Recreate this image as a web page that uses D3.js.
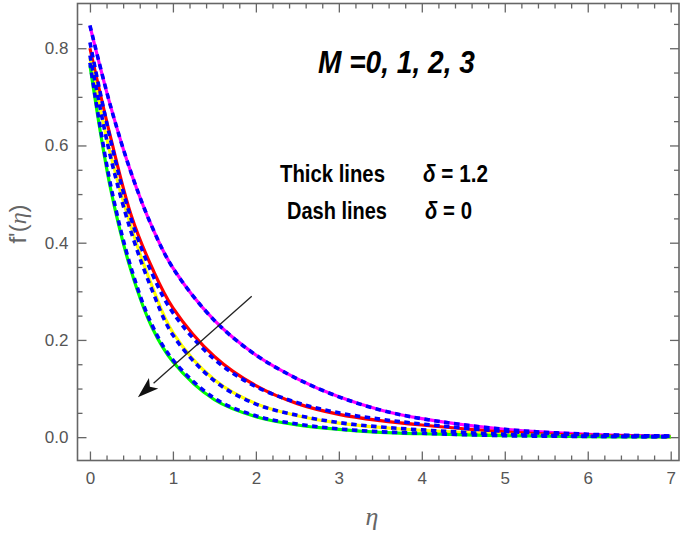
<!DOCTYPE html>
<html>
<head>
<meta charset="utf-8">
<script src="https://cdn.jsdelivr.net/npm/d3@7"></script>
<style>
  html, body { margin: 0; padding: 0; background: #fff; }
  svg { display: block; }
</style>
</head>
<body>
<svg id="chart" width="685" height="534"></svg>
<script>
// ---- data ----
const eta = [0, 0.25, 0.5, 0.75, 1, 1.5, 2, 2.5, 3, 3.5, 4, 5, 6, 7];
// thick lines, delta = 1.2, M = 0,1,2,3
const solidM0 = [0.846, 0.680, 0.542, 0.432, 0.348, 0.240, 0.169, 0.120, 0.083, 0.056, 0.038, 0.016, 0.006, 0.002];
const solidM1 = [0.800, 0.616, 0.455, 0.348, 0.266, 0.166, 0.106, 0.069, 0.047, 0.034, 0.025, 0.011, 0.004, 0.001];
const solidM2 = [0.780, 0.580, 0.430, 0.310, 0.215, 0.118, 0.069, 0.044, 0.029, 0.020, 0.014, 0.006, 0.002, 0.001];
const solidM3 = [0.765, 0.510, 0.340, 0.225, 0.155, 0.077, 0.042, 0.025, 0.016, 0.010, 0.007, 0.003, 0.001, 0.0005];
// dash lines, delta = 0, M = 0,1,2,3
const dashM0 = [0.847, 0.680, 0.542, 0.432, 0.348, 0.240, 0.169, 0.120, 0.083, 0.056, 0.038, 0.016, 0.006, 0.002];
const dashM1 = [0.812, 0.610, 0.447, 0.336, 0.256, 0.160, 0.104, 0.071, 0.050, 0.037, 0.027, 0.012, 0.005, 0.002];
const dashM2 = [0.785, 0.575, 0.420, 0.302, 0.210, 0.116, 0.068, 0.045, 0.030, 0.021, 0.015, 0.006, 0.002, 0.001];
const dashM3 = [0.770, 0.518, 0.346, 0.230, 0.159, 0.080, 0.044, 0.027, 0.017, 0.011, 0.008, 0.003, 0.0015, 0.001];

const solidSeries = [solidM0, solidM1, solidM2, solidM3];
const dashSeries = [dashM0, dashM1, dashM2, dashM3];
const solidColors = ["#ff00ff", "#ff0000", "#ffff00", "#00ff00"];
const dashColor = "#0000ff";

const xTicks = [0, 1, 2, 3, 4, 5, 6, 7];
const yTicks = [0.0, 0.2, 0.4, 0.6, 0.8];
const xDomain = [-0.15, 7.1];
const yDomain = [-0.048, 0.892];
// arrow annotation in data units: [eta, f'] from tail to head
const arrowFrom = [1.95, 0.290];
const arrowTo = [0.578, 0.082];

// ---- layout ----
const svg = d3.select("#chart");
const L = 77.5, R = 679, T = 3.5, B = 460.5;
const x = d3.scaleLinear().domain(xDomain).range([L, R]);
const y = d3.scaleLinear().domain(yDomain).range([B, T]);
const axisColor = "#666";
const labelColor = "#555";

svg.append("defs").append("clipPath").attr("id", "clip")
  .append("rect").attr("x", L).attr("y", T).attr("width", R - L).attr("height", B - T);

const xMinor = d3.range(0, 7.0001, 0.2).filter(v => Math.abs(v - Math.round(v)) > 1e-6);
const yMinor = d3.range(0, 0.8901, 0.05).filter(v => Math.abs(v * 5 - Math.round(v * 5)) > 1e-6);
const fmt = d3.format(".1f");

const gB = svg.append("g").attr("transform", `translate(0,${B})`)
  .call(d3.axisBottom(x).tickValues(xTicks).tickFormat(d3.format("d")).tickSizeInner(-9).tickSizeOuter(0).tickPadding(11));
const gBm = svg.append("g").attr("transform", `translate(0,${B})`)
  .call(d3.axisBottom(x).tickValues(xMinor).tickFormat("").tickSizeInner(-5).tickSizeOuter(0));
const gT = svg.append("g").attr("transform", `translate(0,${T})`)
  .call(d3.axisTop(x).tickValues(xTicks).tickFormat("").tickSizeInner(-9).tickSizeOuter(0));
const gTm = svg.append("g").attr("transform", `translate(0,${T})`)
  .call(d3.axisTop(x).tickValues(xMinor).tickFormat("").tickSizeInner(-5).tickSizeOuter(0));
const gL = svg.append("g").attr("transform", `translate(${L},0)`)
  .call(d3.axisLeft(y).tickValues(yTicks).tickFormat(fmt).tickSizeInner(-9).tickSizeOuter(0).tickPadding(9));
const gLm = svg.append("g").attr("transform", `translate(${L},0)`)
  .call(d3.axisLeft(y).tickValues(yMinor).tickFormat("").tickSizeInner(-5).tickSizeOuter(0));
const gR = svg.append("g").attr("transform", `translate(${R},0)`)
  .call(d3.axisRight(y).tickValues(yTicks).tickFormat("").tickSizeInner(-9).tickSizeOuter(0));
const gRm = svg.append("g").attr("transform", `translate(${R},0)`)
  .call(d3.axisRight(y).tickValues(yMinor).tickFormat("").tickSizeInner(-5).tickSizeOuter(0));

[gB, gBm, gT, gTm, gL, gLm, gR, gRm].forEach(g => {
  g.select(".domain").remove();
  g.selectAll(".tick line").attr("stroke", axisColor).attr("stroke-width", 1.3);
  g.selectAll(".tick text").attr("fill", labelColor)
    .style("font-family", "'Liberation Sans', Arial, sans-serif").style("font-size", "17px");
});

svg.append("rect").attr("x", L).attr("y", T).attr("width", R - L).attr("height", B - T)
  .attr("fill", "none").attr("stroke", axisColor).attr("stroke-width", 1.6);

// curves
const line = d3.line().x((d, i) => x(eta[i])).y(d => y(d)).curve(d3.curveCatmullRom.alpha(0.5));
const plot = svg.append("g").attr("clip-path", "url(#clip)");
solidSeries.forEach((s, k) => {
  plot.append("path").attr("d", line(s)).attr("fill", "none")
    .attr("stroke", solidColors[k]).attr("stroke-width", 3.2);
});
dashSeries.forEach(s => {
  plot.append("path").attr("d", line(s)).attr("fill", "none")
    .attr("stroke", dashColor).attr("stroke-width", 3.6).attr("stroke-dasharray", "5.5,4.5");
});

// arrow
const x1 = x(arrowFrom[0]), y1 = y(arrowFrom[1]);
const x2 = x(arrowTo[0]), y2 = y(arrowTo[1]);
const ang = Math.atan2(y2 - y1, x2 - x1);
const hl = 21, hw = 7;
const bx = x2 - hl * Math.cos(ang), by = y2 - hl * Math.sin(ang);
svg.append("line").attr("x1", x1).attr("y1", y1).attr("x2", bx).attr("y2", by)
  .attr("stroke", "#222").attr("stroke-width", 1.3);
svg.append("path")
  .attr("d", `M${x2},${y2} L${bx + hw * Math.sin(ang)},${by - hw * Math.cos(ang)} L${bx + 5 * Math.cos(ang)},${by + 5 * Math.sin(ang)} L${bx - hw * Math.sin(ang)},${by + hw * Math.cos(ang)} Z`)
  .attr("fill", "#111");

// axis titles
svg.append("text").attr("x", 372).attr("y", 525).attr("text-anchor", "middle")
  .attr("fill", "#666").style("font-family", "'Liberation Serif', 'Times New Roman', serif")
  .style("font-style", "italic").style("font-size", "26px").text("η");
svg.append("text").attr("transform", "translate(26,224) rotate(-90)").attr("text-anchor", "middle")
  .attr("fill", "#666").style("font-family", "'Liberation Sans', Arial, sans-serif")
  .style("font-size", "24px")
  .html("f'(<tspan font-family=\"'Liberation Serif', serif\" font-style=\"italic\">η</tspan>)");

// annotations: condensed by horizontal scaling to the measured widths
const ann = svg.append("g").style("font-family", "'Liberation Sans', Arial, sans-serif").attr("fill", "#000");
function fitText(px, py, width, size, italic, html) {
  const t = ann.append("text").attr("x", 0).attr("y", 0)
    .style("font-size", size + "px").style("font-weight", "bold")
    .style("font-style", italic ? "italic" : "normal").html(html);
  const w = t.node().getComputedTextLength();
  t.attr("transform", `translate(${px},${py}) scale(${width / w},1)`);
}
fitText(318, 73, 157, 31, true, "M =0, 1, 2, 3");
fitText(280, 182, 105, 24, false, "Thick lines");
fitText(423, 182, 65, 24, false, '<tspan font-style="italic">δ</tspan> = 1.2');
fitText(287, 219, 100, 24, false, "Dash lines");
fitText(425, 219, 47, 24, false, '<tspan font-style="italic">δ</tspan> = 0');
</script>
</body>
</html>
